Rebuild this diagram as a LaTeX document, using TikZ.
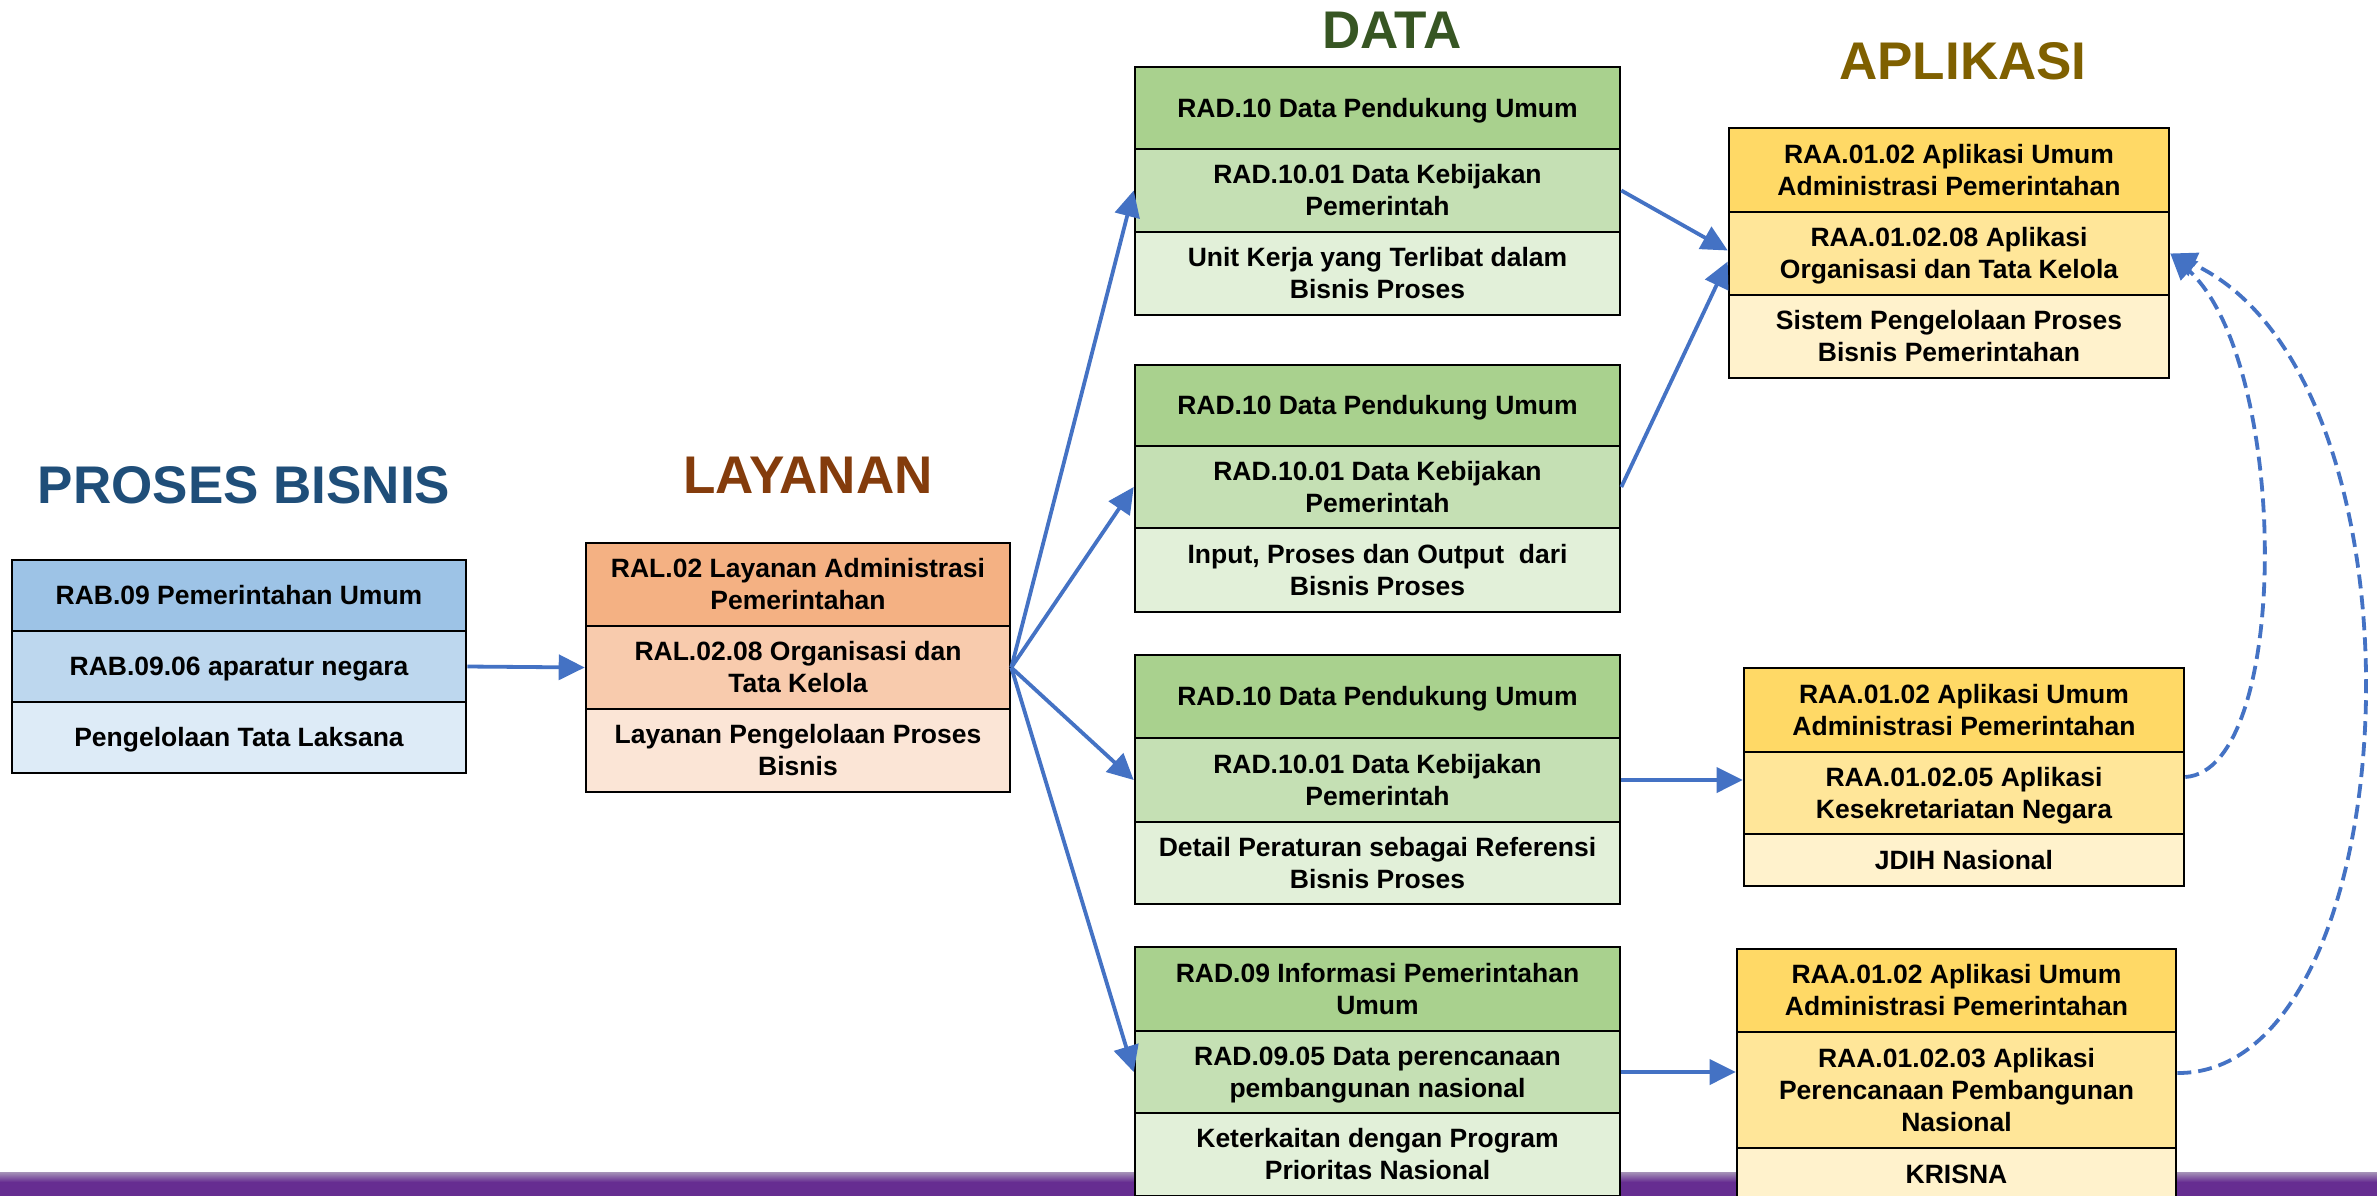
\documentclass[tikz,border=0pt]{standalone}
\usepackage{fontspec}
\setmainfont{Liberation Sans}
\usetikzlibrary{arrows.meta,calc}

% column fills
\definecolor{pbA}{HTML}{9DC3E6}
\definecolor{pbB}{HTML}{BDD7EE}
\definecolor{pbC}{HTML}{DDEBF7}
\definecolor{lyA}{HTML}{F4B183}
\definecolor{lyB}{HTML}{F8CBAD}
\definecolor{lyC}{HTML}{FBE5D6}
\definecolor{dtA}{HTML}{A9D18E}
\definecolor{dtB}{HTML}{C5E0B4}
\definecolor{dtC}{HTML}{E2F0D9}
\definecolor{apA}{HTML}{FFD966}
\definecolor{apB}{HTML}{FFE699}
\definecolor{apC}{HTML}{FFF2CC}
% headings and connectors
\definecolor{pbHead}{HTML}{1F4E79}
\definecolor{lyHead}{HTML}{843C0C}
\definecolor{dtHead}{HTML}{375623}
\definecolor{apHead}{HTML}{7F6000}
\definecolor{linkblue}{HTML}{4472C4}
\definecolor{barTop}{HTML}{A693B8}
\definecolor{barMain}{HTML}{662D91}

\tikzset{
  cell/.style={draw=black, line width=1.3pt, inner sep=0pt, align=center,
    text=black, font=\bfseries\fontsize{13.25pt}{16pt}\selectfont},
  heading/.style={anchor=base, font=\bfseries\fontsize{26.5pt}{30pt}\selectfont},
  flow/.style={draw=linkblue, line width=1.9pt,
    -{Triangle[length=13pt,width=12.5pt]}},
  backlink/.style={flow, dash pattern=on 7pt off 3.5pt}
}

% invisible strut giving every line the font's full ascent and descent
\newcommand\cellstrut{\rule[-0.212em]{0pt}{1.117em}}

% \cellbox{name}{x1}{x2}{y1}{y2}{fill}{text}
\newcommand\cellbox[7]{%
  \node[cell, fill=#6, minimum width={(#3-#2)*0.5pt},
        minimum height={(#5-#4)*0.5pt}] (#1) at ({(#2+#3)/2},{(#4+#5)/2})
        {\cellstrut#7\cellstrut};}

\begin{document}
\begin{tikzpicture}[x=0.5pt, y=-0.5pt]
\useasboundingbox (0,0) rectangle (2377,1195);
\fill[white] (0,0) rectangle (2377,1195);

% footer band
\shade[top color=barTop, bottom color=barMain] (0,1172) rectangle (2377,1182);
\fill[barMain] (0,1182) rectangle (2377,1196);

% headings
\node[heading, text=pbHead] (hpb) at (244,503) {PROSES BISNIS};
\node[heading, text=lyHead] (hly) at (808,493) {LAYANAN};
\node[heading, text=dtHead] (hdt) at (1392,48) {DATA};
\node[heading, text=apHead] (hap) at (1963,79) {APLIKASI};

% proses bisnis
\cellbox{pb1}{12}{466}{560}{631}{pbA}{RAB.09 Pemerintahan Umum}
\cellbox{pb2}{12}{466}{631}{702}{pbB}{RAB.09.06 aparatur negara}
\cellbox{pb3}{12}{466}{702}{773}{pbC}{Pengelolaan Tata Laksana}

% layanan
\cellbox{ly1}{586}{1010}{543}{626}{lyA}{RAL.02 Layanan Administrasi\\Pemerintahan}
\cellbox{ly2}{586}{1010}{626}{709}{lyB}{RAL.02.08 Organisasi dan\\Tata Kelola}
\cellbox{ly3}{586}{1010}{709}{792}{lyC}{Layanan Pengelolaan Proses\\Bisnis}

% data
\cellbox{d1r1}{1135}{1620}{67}{149}{dtA}{RAD.10 Data Pendukung Umum}
\cellbox{d1r2}{1135}{1620}{149}{232}{dtB}{RAD.10.01 Data Kebijakan\\Pemerintah}
\cellbox{d1r3}{1135}{1620}{232}{315}{dtC}{Unit Kerja yang Terlibat dalam\\Bisnis Proses}

\cellbox{d2r1}{1135}{1620}{365}{446}{dtA}{RAD.10 Data Pendukung Umum}
\cellbox{d2r2}{1135}{1620}{446}{528}{dtB}{RAD.10.01 Data Kebijakan\\Pemerintah}
\cellbox{d2r3}{1135}{1620}{528}{612}{dtC}{Input, Proses dan Output\ \ dari\\Bisnis Proses}

\cellbox{d3r1}{1135}{1620}{655}{738}{dtA}{RAD.10 Data Pendukung Umum}
\cellbox{d3r2}{1135}{1620}{738}{822}{dtB}{RAD.10.01 Data Kebijakan\\Pemerintah}
\cellbox{d3r3}{1135}{1620}{822}{904}{dtC}{Detail Peraturan sebagai Referensi\\Bisnis Proses}

\cellbox{d4r1}{1135}{1620}{947}{1031}{dtA}{RAD.09 Informasi Pemerintahan\\Umum}
\cellbox{d4r2}{1135}{1620}{1031}{1113}{dtB}{RAD.09.05 Data perencanaan\\pembangunan nasional}
\cellbox{d4r3}{1135}{1620}{1113}{1196}{dtC}{Keterkaitan dengan Program\\Prioritas Nasional}

% aplikasi
\cellbox{a1r1}{1729}{2169}{128}{212}{apA}{RAA.01.02 Aplikasi Umum\\Administrasi Pemerintahan}
\cellbox{a1r2}{1729}{2169}{212}{295}{apB}{RAA.01.02.08 Aplikasi\\Organisasi dan Tata Kelola}
\cellbox{a1r3}{1729}{2169}{295}{378}{apC}{Sistem Pengelolaan Proses\\Bisnis Pemerintahan}

\cellbox{a2r1}{1744}{2184}{668}{752}{apA}{RAA.01.02 Aplikasi Umum\\Administrasi Pemerintahan}
\cellbox{a2r2}{1744}{2184}{752}{834}{apB}{RAA.01.02.05 Aplikasi\\Kesekretariatan Negara}
\cellbox{a2r3}{1744}{2184}{834}{886}{apC}{JDIH Nasional}

\cellbox{a3r1}{1737}{2176}{949}{1032}{apA}{RAA.01.02 Aplikasi Umum\\Administrasi Pemerintahan}
\cellbox{a3r2}{1737}{2176}{1032}{1148}{apB}{RAA.01.02.03 Aplikasi\\Perencanaan Pembangunan\\Nasional}
\cellbox{a3r3}{1737}{2176}{1148}{1200}{apC}{KRISNA}

% solid links
\draw[flow] (pb2.east) -- (ly2.west);
\draw[flow] (ly2.east) -- (d1r2.west);
\draw[flow] (ly2.east) -- (d2r2.west);
\draw[flow] (ly2.east) -- (d3r2.west);
\draw[flow] (ly2.east) -- (d4r2.west);
\draw[flow] (d1r2.east) -- ($(a1r2.west)+(0,-3)$);
\draw[flow] (d2r2.east) -- ($(a1r2.west)+(0,8)$);
\draw[flow] (d3r2.east) -- (d3r2.east -| a2r2.west);
\draw[flow] (d4r2.east) -- (d4r2.east -| a3r2.west);

% dashed links back to the organisasi application
\draw[backlink] ($(a2r2.east)+(0,-16)$) .. controls +(106,-7) and +(120,110) .. (a1r2.east);
\draw[backlink] ($(a3r2.east)+(0,-17)$) .. controls +(233,2) and +(271,126) .. (a1r2.east);
\end{tikzpicture}
\end{document}
